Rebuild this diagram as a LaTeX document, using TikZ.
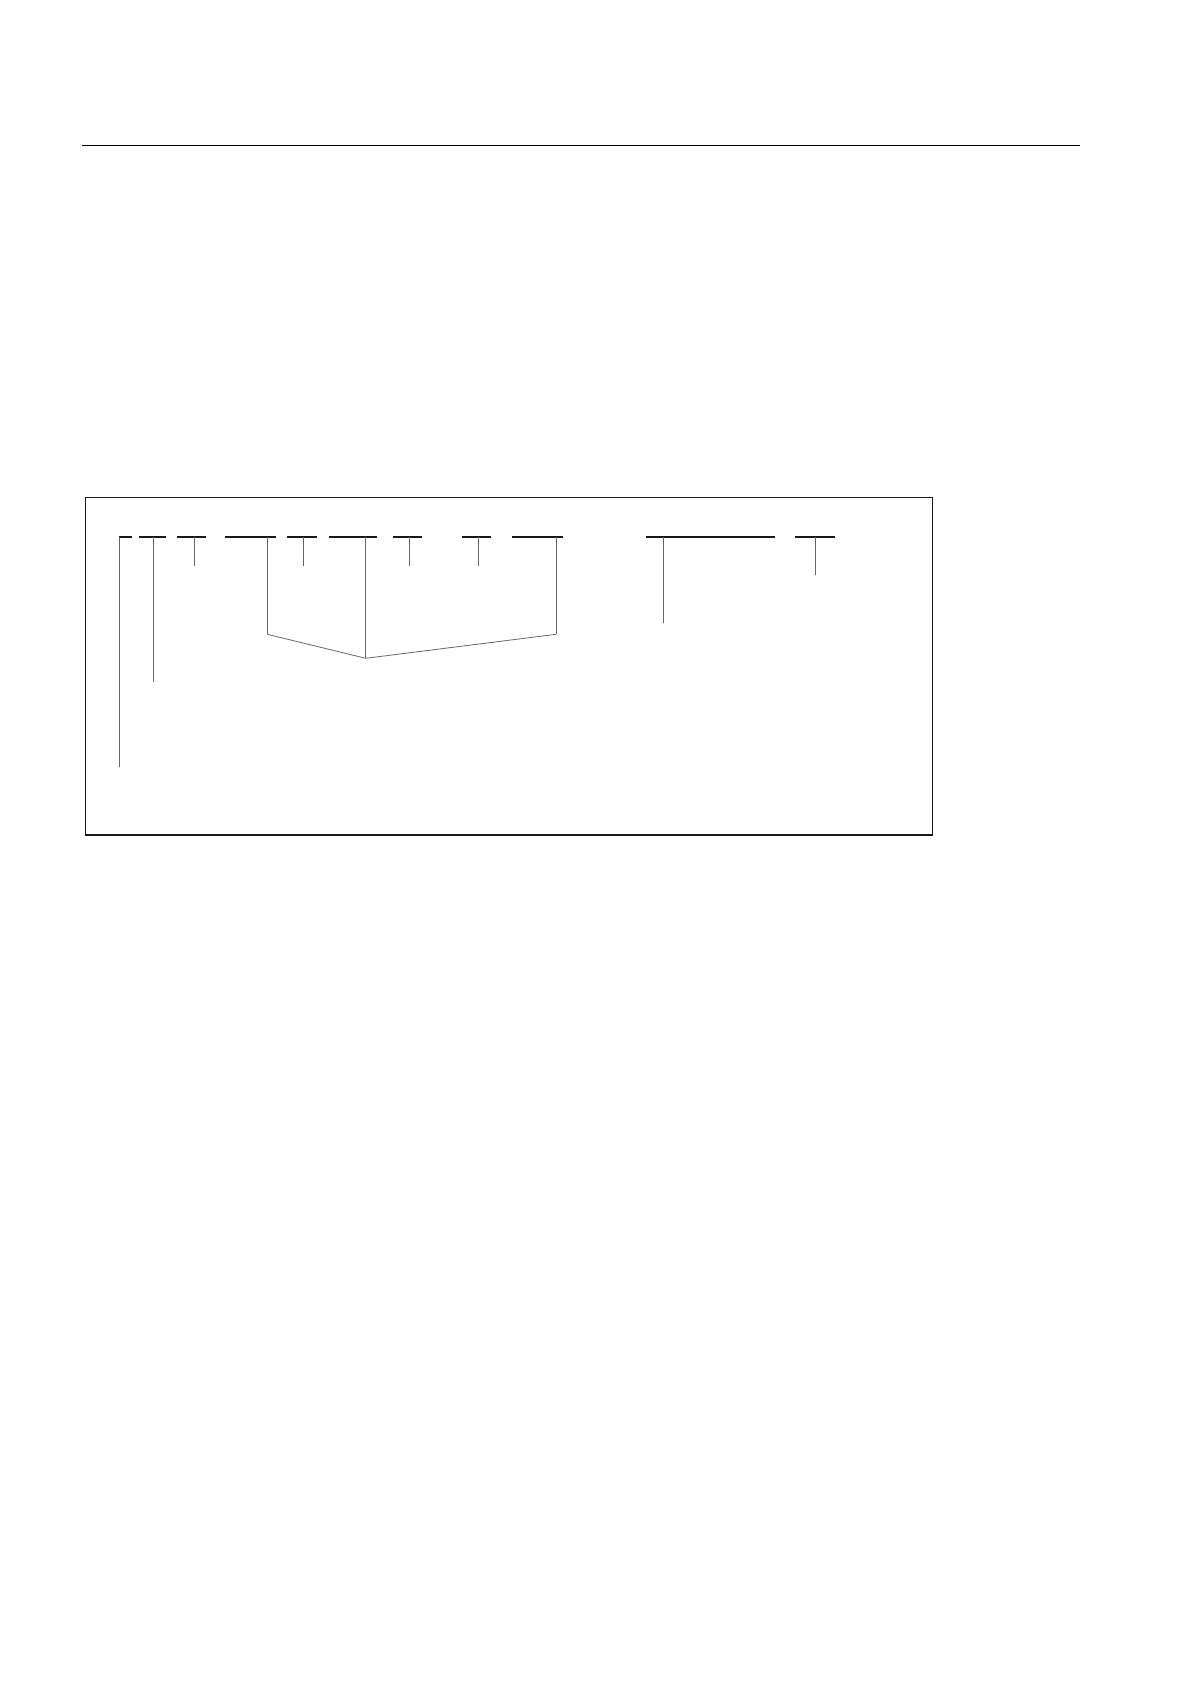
\documentclass[tikz,border=0pt]{standalone}
\usetikzlibrary{calc}
\tikzset{
  rule/.style={line width=1pt},
  frame/.style={line width=1.3pt, draw=black!90},
  bar/.style={line width=1.7pt, draw=black!90},
  leader/.style={draw=black!60, line width=0.8pt},
}
\begin{document}
\begin{tikzpicture}[x=1pt,y=-1pt]
  \useasboundingbox (0,0) rectangle (1190,1684);
  % rule at the head of the page
  \coordinate (R1) at (82,145.3);
  \coordinate (R2) at (1080,145.3);
  \draw [rule] (R1) -- (R2);

  % frame
  \coordinate (F1) at (85.7,497.5);
  \coordinate (F2) at (932.3,835);
  \draw [frame] (F1) rectangle (F2);

  % bars and their leaders
  \coordinate (J) at (365.7,658.3);
  \foreach \i/\a/\b/\v/\e in {
      1/119.3/131.7/119.3/766.7,
      2/139/165.7/153.3/682.3,
      3/176.7/206/194.3/565.7,
      4/225/275.7/267.3/634.3,
      5/287/316.7/303/565.7,
      6/329/376.7/365.7/658.3,
      7/392.7/421.7/409.3/565.7,
      8/462/491/478/565.7,
      9/512/562.7/556/634.3,
      10/646/775/663.3/622.7,
      11/795/835/815.7/575}{
    \coordinate (l\i) at (\a,536.7);
    \coordinate (r\i) at (\b,536.7);
    \coordinate (b\i) at (\v,536.7);
    \coordinate (t\i) at (\v,\e);
    \draw [bar] (l\i) -- (r\i);
    \draw [leader] (b\i) -- (t\i);
  }

  % bracket joining three of the leaders
  \draw [leader] (t4) -- (J) -- (t9);
\end{tikzpicture}
\end{document}
